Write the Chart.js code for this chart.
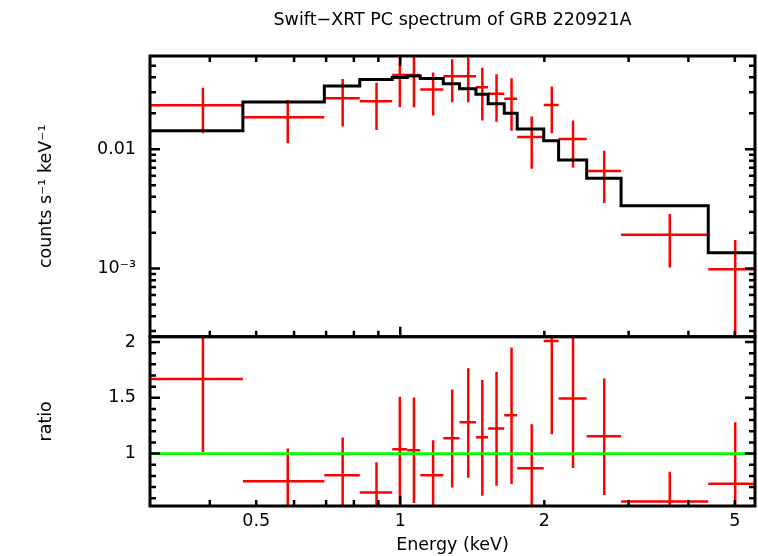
<!DOCTYPE html>
<html>
<head>
<meta charset="utf-8">
<title>Swift-XRT PC spectrum of GRB 220921A</title>
<script src="https://cdn.jsdelivr.net/npm/chart.js@4.4.1/dist/chart.umd.min.js"></script>
<style>
  html, body { margin: 0; padding: 0; background: #fff; }
  #wrap { width: 758px; height: 556px; }
</style>
</head>
<body>
<div id="wrap"><canvas id="spec" width="758" height="556"></canvas></div>
<script>
(function () {
    'use strict';

    // ── Data ──────────────────────────────────────────────────────────────────
    // channel-group edges (keV), 18 bins
    var binEdges   = [0.3005, 0.469, 0.694, 0.823, 0.962, 1.034, 1.101, 1.230, 1.330,
                      1.439, 1.526, 1.649, 1.755, 1.994, 2.142, 2.452, 2.893, 4.400, 5.51];
    var energy     = [0.387, 0.582, 0.758, 0.892, 0.998, 1.068, 1.171, 1.284, 1.387,
                      1.484, 1.589, 1.708, 1.882, 2.073, 2.296, 2.668, 3.657, 5.010];

    // counts s^-1 keV^-1
    var rate       = [0.0234, 0.0185, 0.0267, 0.0252, 0.0419, 0.0419, 0.0316, 0.0409, 0.0409,
                      0.0330, 0.0292, 0.0265, 0.01265, 0.0235, 0.01217, 0.00658, 0.00192, 0.00099];
    var rateHi     = [0.0328, 0.0259, 0.0388, 0.0361, 0.0614, 0.0614, 0.0439, 0.0568, 0.0587,
                      0.0481, 0.0425, 0.0393, 0.0188, 0.0336, 0.0174, 0.0097, 0.00287, 0.00174];
    var rateLo     = [0.0136, 0.0112, 0.0155, 0.0145, 0.0225, 0.0225, 0.0192, 0.0248, 0.0248,
                      0.0174, 0.0170, 0.0143, 0.00688, 0.0136, 0.00701, 0.00355, 0.00102, 1e-5];
    var model      = [0.01431, 0.02489, 0.0339, 0.03842, 0.03994, 0.04111, 0.03909, 0.03543, 0.03217,
                      0.02883, 0.02405, 0.02002, 0.01479, 0.01178, 0.00814, 0.00571, 0.00337, 0.00136];

    // data / model
    var ratio      = [1.668, 0.751, 0.805, 0.652, 1.039, 1.030, 0.805, 1.137, 1.281,
                      1.146, 1.225, 1.344, 0.868, 2.009, 1.494, 1.155, 0.571, 0.730];
    var ratioHi    = [2.29, 1.045, 1.144, 0.922, 1.509, 1.503, 1.120, 1.575, 1.764,
                      1.659, 1.733, 1.952, 1.263, 2.86, 2.14, 1.674, 0.838, 1.281];
    var ratioLo    = [1.014, 0.451, 0.456, 0.378, 0.551, 0.556, 0.490, 0.695, 0.784,
                      0.623, 0.712, 0.727, 0.465, 1.173, 0.871, 0.628, 0.30, 0];

    // ── Axes ──────────────────────────────────────────────────────────────────
    var xMin = 0.3005, xMax = 5.51;
    var xTicks       = [0.4, 0.5, 0.6, 0.7, 0.8, 0.9, 1, 2, 3, 4, 5];
    var xMajor       = [1];
    var xLabelValues = [0.5, 1, 2, 5];
    var xLabels      = ['0.5', '1', '2', '5'];

    var yMin = 2.69e-4, yMax = 0.0604;
    var yTicks       = [3e-4, 4e-4, 5e-4, 6e-4, 7e-4, 8e-4, 9e-4,
                        1e-3, 2e-3, 3e-3, 4e-3, 5e-3, 6e-3, 7e-3, 8e-3, 9e-3,
                        0.01, 0.02, 0.03, 0.04, 0.05, 0.06];
    var yMajor       = [1e-3, 0.01];
    var yLabelValues = [1e-3, 0.01];
    var yLabels      = ['10\u207B\u00B3', '0.01'];

    var rMin = 0.53, rMax = 2.048;
    var rTicks       = [0.6, 0.7, 0.8, 0.9, 1.0, 1.1, 1.2, 1.3, 1.4, 1.5,
                        1.6, 1.7, 1.8, 1.9, 2.0];
    var rMajor       = [1, 1.5, 2];
    var rLabelValues = [1, 1.5, 2];
    var rLabels      = ['1', '1.5', '2'];

    var RED = '#ff0000', GREEN = '#00ff00', BLACK = '#000000';

    Chart.defaults.font.family = "'DejaVu Sans', sans-serif";
    Chart.defaults.font.size = 17.5;
    Chart.defaults.color = BLACK;

    // ── Helpers: error crosses as broken line segments ───────────────────────
    function xBars(vals) {
        var pts = [];
        vals.forEach(function (v, i) {
            pts.push({ x: binEdges[i], y: v }, { x: binEdges[i + 1], y: v }, { x: binEdges[i + 1], y: null });
        });
        return pts;
    }
    function yBars(lo, hi) {
        var pts = [];
        energy.forEach(function (e, i) {
            pts.push({ x: e, y: lo[i] }, { x: e, y: hi[i] }, { x: e, y: null });
        });
        return pts;
    }
    var modelSteps = binEdges.map(function (e, i) {
        return { x: e, y: model[Math.min(i, model.length - 1)] };
    });

    function lineSet(data, axis, colour, extra) {
        var ds = {
            data: data,
            yAxisID: axis,
            borderColor: colour,
            borderWidth: 2.5,
            borderCapStyle: 'butt',
            pointRadius: 0,
            fill: false,
            spanGaps: false,
            tension: 0
        };
        for (var k in extra) ds[k] = extra[k];
        return ds;
    }

    // ── Frame + inward tick marks, XSPEC style ───────────────────────────────
    var frameTicks = {
        id: 'frameTicks',
        afterDatasetsDraw: function (chart) {
            var ctx = chart.ctx;
            var xs = chart.scales.x, ys = chart.scales.yFlux, rs = chart.scales.yRatio;
            var left = xs.left, right = xs.right;
            var panels = [
                { top: ys.top, bottom: ys.bottom, scale: ys, ticks: yTicks, major: yMajor, topTicks: true },
                { top: rs.top, bottom: rs.bottom, scale: rs, ticks: rTicks, major: rMajor, topTicks: false }
            ];
            ctx.save();
            ctx.strokeStyle = BLACK;
            ctx.lineCap = 'butt';
            panels.forEach(function (p) {
                ctx.lineWidth = 2.5;
                ctx.beginPath();
                xTicks.forEach(function (v) {
                    var px = xs.getPixelForValue(v);
                    var len = xMajor.indexOf(v) >= 0 ? 10 : 6;
                    ctx.moveTo(px, p.bottom); ctx.lineTo(px, p.bottom - len);
                    if (p.topTicks) { ctx.moveTo(px, p.top); ctx.lineTo(px, p.top + len); }
                });
                p.ticks.forEach(function (v) {
                    var py = p.scale.getPixelForValue(v);
                    if (py < p.top + 1 || py > p.bottom - 1) return;
                    var len = p.major.indexOf(v) >= 0 ? 10 : 6;
                    ctx.moveTo(left, py); ctx.lineTo(left + len, py);
                    ctx.moveTo(right, py); ctx.lineTo(right - len, py);
                });
                ctx.stroke();
                ctx.lineWidth = 3;
                ctx.strokeRect(left, p.top, right - left, p.bottom - p.top);
            });
            ctx.restore();
        }
    };

    var noGrid = { display: false, drawTicks: false };

    new Chart(document.getElementById('spec'), {
        type: 'line',
        data: {
            datasets: [
                lineSet([{ x: xMin, y: 1 }, { x: xMax, y: 1 }], 'yRatio', GREEN, { borderWidth: 2.8 }),
                lineSet(modelSteps, 'yFlux', BLACK, { stepped: 'before', borderWidth: 3 }),
                lineSet(xBars(rate), 'yFlux', RED),
                lineSet(yBars(rateLo, rateHi), 'yFlux', RED),
                lineSet(xBars(ratio), 'yRatio', RED),
                lineSet(yBars(ratioLo, ratioHi), 'yRatio', RED)
            ]
        },
        options: {
            responsive: false,
            animation: false,
            events: [],
            layout: { padding: { top: 0, right: 3, bottom: 0, left: 0 } },
            plugins: {
                legend: { display: false },
                tooltip: { enabled: false },
                title: {
                    display: true,
                    fullSize: false,
                    text: 'Swift\u2212XRT PC spectrum of GRB 220921A',
                    color: BLACK,
                    font: { size: 17.5, weight: 'normal' },
                    padding: { top: 10, bottom: 25 }
                }
            },
            scales: {
                x: {
                    type: 'logarithmic',
                    position: 'bottom',
                    min: xMin,
                    max: xMax,
                    afterBuildTicks: function (s) {
                        s.ticks = xLabelValues.map(function (v) { return { value: v }; });
                    },
                    afterFit: function (s) { s.height = 50; },
                    ticks: {
                        autoSkip: false,
                        maxRotation: 0,
                        padding: 4.5,
                        callback: function (v, i) { return xLabels[i]; }
                    },
                    grid: noGrid,
                    border: { display: false },
                    title: { display: true, text: 'Energy (keV)', padding: { top: 0, bottom: 0.5 } }
                },
                yFlux: {
                    type: 'logarithmic',
                    position: 'left',
                    stack: 'panels',
                    stackWeight: 280.7,
                    weight: 2,
                    min: yMin,
                    max: yMax,
                    afterBuildTicks: function (s) {
                        s.ticks = yLabelValues.map(function (v) { return { value: v }; });
                    },
                    afterFit: function (s) { s.width = 150; },
                    ticks: {
                        padding: 14,
                        callback: function (v, i) { return yLabels[i]; }
                    },
                    grid: noGrid,
                    border: { display: false },
                    title: { display: true, text: 'counts s\u207B\u00B9 keV\u207B\u00B9', padding: { top: 35.5, bottom: 0 } }
                },
                yRatio: {
                    type: 'linear',
                    position: 'left',
                    stack: 'panels',
                    stackWeight: 169.3,
                    weight: 1,
                    min: rMin,
                    max: rMax,
                    afterBuildTicks: function (s) {
                        s.ticks = rLabelValues.map(function (v) { return { value: v }; });
                    },
                    afterFit: function (s) { s.width = 150; },
                    ticks: {
                        padding: 14,
                        callback: function (v, i) { return rLabels[i]; }
                    },
                    grid: noGrid,
                    border: { display: false },
                    title: { display: true, text: 'ratio', padding: { top: 35.5, bottom: 0 } }
                }
            }
        },
        plugins: [frameTicks]
    });

})();
</script>
</body>
</html>
